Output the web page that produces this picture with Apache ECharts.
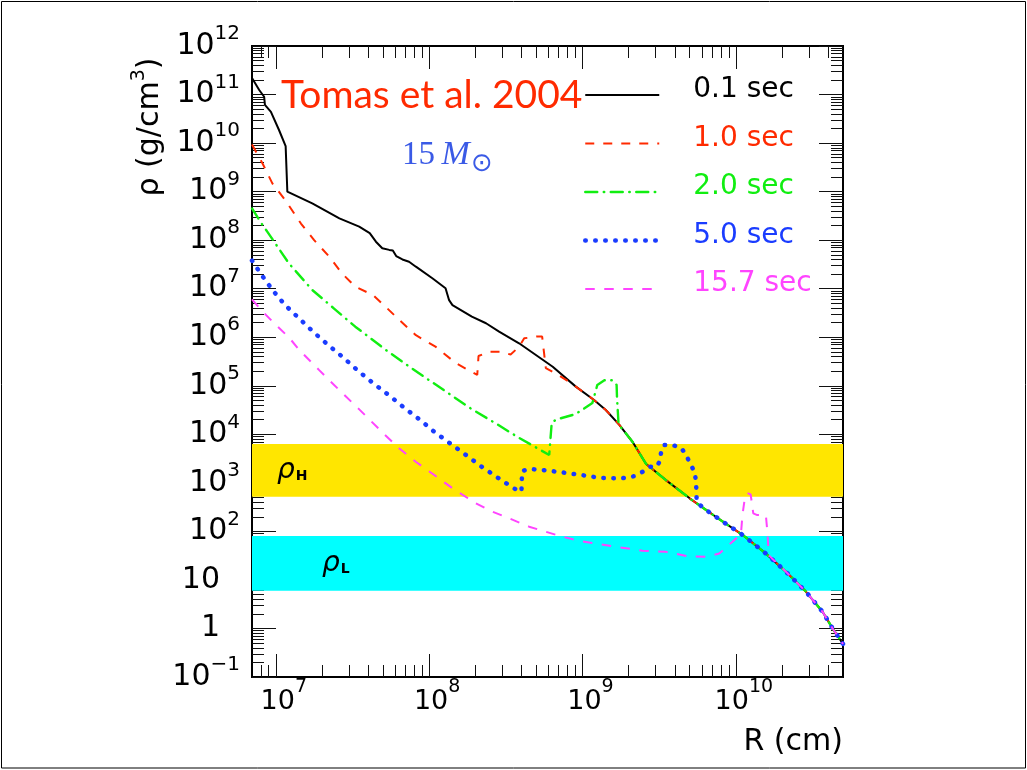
<!DOCTYPE html>
<html>
<head>
<meta charset="utf-8">
<script src="https://cdn.jsdelivr.net/npm/echarts@6/dist/echarts.min.js"></script>
<style>
  html, body { margin: 0; padding: 0; background: #fff; }
  #chart { width: 1027px; height: 770px; }
</style>
</head>
<body>
<div id="chart"></div>
<script>
// Density profiles rho(R) of a 15 Msun progenitor at several post-bounce times.
// Each curve is [R (cm), rho (g/cm^3)].

// Axis ranges and labelled decades
const X_MIN = 7e6, X_MAX = 5e10;
const Y_MIN = 1e-1, Y_MAX = 1e12;
const xMajorTicks = [1e7, 1e8, 1e9, 1e10];
const yMajorTicks = [1e-1, 1, 1e1, 1e2, 1e3, 1e4, 1e5, 1e6, 1e7, 1e8, 1e9, 1e10, 1e11, 1e12];

// Resonance density bands
const rhoHBand = [520, 6300];
const rhoLBand = [6, 80];

// Outer envelope shared by all profiles once the shock has passed
const envelope = [
  [9.05e8, 9.6e4], [1.19e9, 5.1e4], [1.42e9, 3.17e4], [1.74e9, 1.56e4],
  [2.12e9, 7.0e3], [2.6e9, 2.45e3], [3.5e9, 1.14e3], [5.0e9, 480],
  [7.4e9, 200], [1.11e10, 84], [1.57e10, 35], [2.12e10, 14.8],
  [2.87e10, 5.7], [3.68e10, 2.2], [4.28e10, 1.0], [5.0e10, 0.48]
];

const t01 = [
  [7e6, 2.2e11], [7.8e6, 1.24e11], [8.4e6, 9.0e10], [8.5e6, 6.1e10], [9.3e6, 4.4e10],
  [1.05e7, 1.86e10], [1.16e7, 8.7e9], [1.19e7, 1.0e9], [1.73e7, 5.7e8], [2.6e7, 2.8e8],
  [3.5e7, 1.9e8], [4.1e7, 1.4e8], [4.5e7, 9.3e7], [4.95e7, 6.8e7], [5.5e7, 6.3e7],
  [5.8e7, 6.1e7], [6.1e7, 4.7e7], [6.7e7, 4.0e7], [7.4e7, 3.6e7], [8.2e7, 2.84e7],
  [1.05e8, 1.64e7], [1.28e8, 1.02e7], [1.35e8, 5.8e6], [1.42e8, 4.6e6], [1.9e8, 2.65e6],
  [2.35e8, 1.94e6], [2.86e8, 1.3e6], [3.86e8, 7.5e5], [6.4e8, 2.47e5]
];

const t10 = [
  [7e6, 9.3e9], [8.2e6, 3.8e9], [9.5e6, 1.48e9], [1.16e7, 6.5e8], [1.46e7, 2.2e8],
  [1.78e7, 1.0e8], [2.23e7, 4.6e7], [2.7e7, 2.07e7], [3.3e7, 1.1e7], [4.3e7, 7.4e6],
  [5.2e7, 4.25e6], [6.4e7, 2.26e6], [8.2e7, 1.1e6], [1.1e8, 6.4e5], [1.5e8, 2.9e5],
  [2.06e8, 1.67e5], [2.1e8, 4.1e5], [2.46e8, 5.0e5], [2.94e8, 5.0e5], [3.4e8, 4.4e5],
  [3.87e8, 6.4e5], [4.17e8, 9.5e5], [5.0e8, 1.03e6], [5.46e8, 1.03e6], [5.62e8, 4.7e5],
  [5.77e8, 2.3e5], [6.7e8, 1.8e5], [8.2e8, 1.2e5]
];

const t20 = [
  [7e6, 4.5e8], [8.2e6, 2.05e8], [8.8e6, 1.5e8], [1.22e7, 3.3e7], [1.73e7, 9.4e6],
  [2.4e7, 3.9e6], [3.3e7, 1.65e6], [5.3e7, 5.3e5], [7.4e7, 2.5e5], [1.04e8, 1.2e5],
  [1.87e8, 3.4e4], [2.7e8, 1.7e4], [3.8e8, 8.7e3], [6.07e8, 3.75e3], [6.3e8, 1.7e4],
  [6.7e8, 2.0e4], [9.0e8, 2.6e4], [1.16e9, 4.4e4], [1.25e9, 1.04e5], [1.39e9, 1.3e5],
  [1.56e9, 1.3e5], [1.67e9, 1.04e5], [1.68e9, 5.7e4], [1.72e9, 1.6e4]
];

const t50 = [
  [7e6, 3.8e7], [8.1e6, 1.9e7], [9.6e6, 9.1e6], [1.15e7, 4.6e6], [1.42e7, 2.45e6],
  [1.76e7, 1.28e6], [2.2e7, 6.9e5], [2.76e7, 3.8e5], [3.46e7, 2.0e5], [4.33e7, 1.12e5],
  [5.5e7, 6.3e4], [6.9e7, 3.5e4], [8.7e7, 2.0e4], [1.09e8, 1.1e4], [1.39e8, 6.3e3],
  [1.74e8, 3.75e3], [2.2e8, 2.15e3], [2.8e8, 1.28e3], [3.6e8, 760], [4.0e8, 660],
  [4.04e8, 1.75e3], [4.5e8, 1.93e3], [5.5e8, 1.84e3], [7.3e8, 1.65e3], [9.8e8, 1.45e3],
  [1.32e9, 1.26e3], [1.78e9, 1.23e3], [2.2e9, 1.38e3], [2.5e9, 1.73e3], [2.76e9, 2.15e3],
  [3.04e9, 2.15e3], [3.2e9, 2.8e3], [3.26e9, 4.4e3], [3.4e9, 6.0e3], [3.86e9, 6.0e3],
  [4.4e9, 5.3e3], [4.77e9, 3.6e3], [5.1e9, 2.3e3], [5.4e9, 1.67e3], [5.5e9, 1.04e3],
  [5.54e9, 650], [5.55e9, 420], [6.07e9, 310]
];

const t157 = [
  [7e6, 6.0e6], [8.2e6, 3.4e6], [1e7, 1.8e6], [1.22e7, 9.9e5], [1.42e7, 5.5e5],
  [1.92e7, 2.1e5], [2.59e7, 8.2e4], [3.49e7, 3.3e4], [5.09e7, 1.01e4], [6.37e7, 5.15e3],
  [8.18e7, 2.72e3], [1.08e8, 1.45e3], [1.42e8, 773], [2.02e8, 378], [2.59e8, 254],
  [3.32e8, 186], [4.49e8, 125], [7.05e8, 81], [9.5e8, 64], [1.28e9, 55], [1.74e9, 47],
  [2.46e9, 40], [3.5e9, 38], [4.96e9, 30.4], [6.4e9, 30], [7.8e9, 35], [9.5e9, 61],
  [1.08e10, 88], [1.105e10, 217], [1.14e10, 443], [1.19e10, 618], [1.25e10, 575],
  [1.3e10, 235], [1.38e10, 217], [1.57e10, 217], [1.61e10, 91], [1.64e10, 32]
];

const seriesNames = ['0.1 sec', '1.0 sec', '2.0 sec', '5.0 sec', '15.7 sec'];
const seriesColors = ['#000000', '#ff2a00', '#11ee11', '#1a3cff', '#ff44ff'];

// Append the common envelope beyond the last point of a profile
function withEnvelope(profile) {
  const last = profile[profile.length - 1][0];
  return profile.concat(envelope.filter(p => p[0] > last));
}

// Minor tick positions at 2..9 x 10^n inside the axis range
function minorTicks(lo, hi) {
  const out = [];
  for (let e = Math.floor(Math.log10(lo)) - 1; e <= Math.ceil(Math.log10(hi)); e++) {
    for (let m = 2; m <= 9; m++) {
      const v = m * Math.pow(10, e);
      if (v > lo * 1.0001 && v < hi * 0.9999) out.push(v);
    }
  }
  return out;
}

const FONT = 'DejaVu Sans';

function expText(e) {
  return e < 0 ? '\u2212' + (-e) : String(e);
}

function xLabel(v) {
  const e = Math.round(Math.log10(v));
  return '{s|}{b|10}{e|' + expText(e) + '}';
}

function yLabel(v) {
  const e = Math.round(Math.log10(v));
  if (e === 0) return '{b|1}{g|}';
  if (e === 1) return '{b|10}{g|}';
  return '{b|10}{e|' + expText(e) + '}';
}

function makeXAxis(position, ticks, len, withLabels) {
  return {
    type: 'log', logBase: 10, min: X_MIN, max: X_MAX, position: position,
    axisLine: { show: true, onZero: false, lineStyle: { color: '#000', width: 2 } },
    axisTick: { show: true, inside: true, length: len, customValues: ticks,
                lineStyle: { color: '#111', width: 1 } },
    axisLabel: withLabels ? {
      show: true, customValues: xMajorTicks, margin: 10, formatter: xLabel,
      color: '#000', fontFamily: FONT,
      rich: {
        s: { width: 16 },
        b: { fontSize: 27, lineHeight: 30, fontFamily: FONT, color: '#000' },
        e: { fontSize: 19, lineHeight: 19, fontFamily: FONT, color: '#000', padding: [0, 0, 30, 0] }
      }
    } : { show: false },
    splitLine: { show: false }, minorTick: { show: false }, minorSplitLine: { show: false }
  };
}

function makeYAxis(position, ticks, len, withLabels) {
  return {
    type: 'log', logBase: 10, min: Y_MIN, max: Y_MAX, position: position,
    axisLine: { show: true, onZero: false, lineStyle: { color: '#000', width: 2 } },
    axisTick: { show: true, inside: true, length: len, customValues: ticks,
                lineStyle: { color: '#111', width: 1 } },
    axisLabel: withLabels ? {
      show: true, customValues: yMajorTicks, margin: 12, formatter: yLabel,
      color: '#000', fontFamily: FONT,
      rich: {
        g: { width: 20 },
        b: { fontSize: 30, lineHeight: 32, fontFamily: FONT, color: '#000' },
        e: { fontSize: 20, lineHeight: 20, fontFamily: FONT, color: '#000', padding: [0, 0, 24, 0] }
      }
    } : { show: false },
    splitLine: { show: false }, minorTick: { show: false }, minorSplitLine: { show: false }
  };
}

const xMinor = minorTicks(X_MIN, X_MAX);
const yMinor = minorTicks(Y_MIN, Y_MAX);

const lineStyles = [
  { color: seriesColors[0], width: 2, type: 'solid' },
  { color: seriesColors[1], width: 2, type: [9, 9] },
  { color: seriesColors[2], width: 2.4, type: [12, 6.5, 0.5, 6.5], cap: 'round' },
  { color: seriesColors[3], width: 4.5, type: [0.5, 9.5], cap: 'round' },
  { color: seriesColors[4], width: 2, type: [9.5, 9.5] }
];

const profiles = [t01, t10, t20, t50, t157];

const bandLabelRich = {
  r: { fontSize: 28, fontStyle: 'italic', fontFamily: FONT, color: '#000' },
  s: { fontSize: 14, fontWeight: 'bold', fontFamily: FONT, color: '#000', padding: [12, 0, 0, 1] }
};

const series = profiles.map((p, i) => ({
  name: seriesNames[i],
  type: 'line',
  data: withEnvelope(p),
  showSymbol: false,
  symbol: 'none',
  smooth: false,
  z: 2 + i,
  lineStyle: lineStyles[i],
  itemStyle: { color: seriesColors[i] },
  emphasis: { disabled: true }
}));

// Density bands drawn beneath the curves
series[0].markArea = {
  silent: true,
  data: [
    [
      { yAxis: rhoHBand[0], itemStyle: { color: '#ffe600', opacity: 1 },
        label: { show: true, position: [25, '50%'], align: 'left', verticalAlign: 'middle',
                 formatter: '{r|\u03c1}{s|H}', rich: bandLabelRich } },
      { yAxis: rhoHBand[1] }
    ],
    [
      { yAxis: rhoLBand[0], itemStyle: { color: '#00ffff', opacity: 1 },
        label: { show: true, position: [70, '50%'], align: 'left', verticalAlign: 'middle',
                 formatter: '{r|\u03c1}{s|L}', rich: bandLabelRich } },
      { yAxis: rhoLBand[1] }
    ]
  ]
};

const chart = echarts.init(document.getElementById('chart'), null, { renderer: 'canvas' });

chart.setOption({
  animation: false,
  backgroundColor: '#ffffff',
  textStyle: { fontFamily: FONT },
  grid: { left: 252, top: 46, width: 591, height: 631, containLabel: false, outerBoundsMode: 'none' },
  xAxis: [
    makeXAxis('bottom', xMajorTicks, 23, true),
    makeXAxis('bottom', xMinor, 12, false),
    makeXAxis('top', xMajorTicks, 23, false),
    makeXAxis('top', xMinor, 12, false)
  ],
  yAxis: [
    makeYAxis('left', yMajorTicks, 24, true),
    makeYAxis('left', yMinor, 12, false),
    makeYAxis('right', yMajorTicks, 24, false),
    makeYAxis('right', yMinor, 12, false)
  ],
  legend: {
    orient: 'vertical', left: 583, top: 76, padding: 0,
    itemWidth: 74, itemHeight: 14, itemGap: 10.5,
    selectedMode: false,
    itemStyle: { opacity: 0, borderWidth: 0 },
    data: seriesNames.map((n, i) => ({
      name: n,
      textStyle: { color: seriesColors[i] },
      lineStyle: { width: lineStyles[i].width }
    })),
    formatter: '{t|{name}}',
    textStyle: {
      fontSize: 28, fontFamily: FONT,
      rich: { t: { fontSize: 28, lineHeight: 28, fontFamily: FONT, padding: [0, 0, 10, 29] } }
    }
  },
  graphic: [
    { type: 'rect', silent: true, z: 100,
      shape: { x: 1.5, y: 1.5, width: 1024, height: 766.5 },
      style: { fill: 'none', stroke: '#000', lineWidth: 1 } },
    { type: 'text', silent: true, x: 281, y: 95,
      style: { text: 'Tomas et al. 2004', font: '39px Lato', fill: '#ff2a00',
               align: 'left', verticalAlign: 'middle' } },
    { type: 'text', silent: true, x: 402, y: 155,
      style: { text: '{n|15\u2009}{m|M}{o|\u2299}', align: 'left', verticalAlign: 'middle',
               rich: {
                 n: { fontSize: 33, fontFamily: 'Liberation Serif', fill: '#3a5ae6' },
                 m: { fontSize: 34, fontStyle: 'italic', fontFamily: 'Liberation Serif', fill: '#3a5ae6' },
                 o: { fontSize: 26, fontFamily: 'DejaVu Sans', fill: '#3a5ae6', padding: [18, 0, 0, 1] }
               } } },
    { type: 'text', silent: true, x: 843, y: 742,
      style: { text: 'R (cm)', fontSize: 30, fontFamily: FONT, fill: '#000',
               align: 'right', verticalAlign: 'middle' } },
    { type: 'text', silent: true, x: 150, y: 127, rotation: Math.PI / 2,
      style: { text: '{a|\u03c1 (g/cm}{s|3}{a|)}', align: 'center', verticalAlign: 'middle',
               rich: {
                 a: { fontSize: 30, lineHeight: 34, fontFamily: FONT, fill: '#000' },
                 s: { fontSize: 19, lineHeight: 19, fontFamily: FONT, fill: '#000', padding: [0, 0, 22, 0] }
               } } }
  ],
  series: series
});
</script>
</body>
</html>
